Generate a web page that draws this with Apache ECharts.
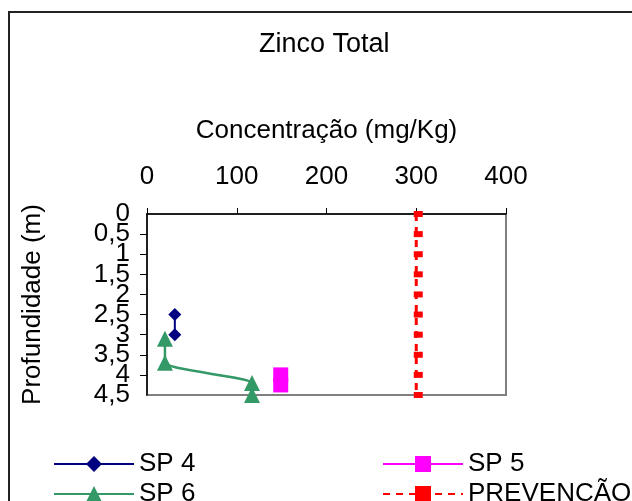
<!DOCTYPE html>
<html>
<head>
    <meta charset="utf-8">
    <script src="https://cdn.jsdelivr.net/npm/echarts@6/dist/echarts.min.js"></script>
    <style>
        body { margin: 0; background: #fff; }
        #main { width: 632px; height: 501px; }
    </style>
</head>

<body>
    <div id="main"></div>

    <script type="text/javascript">
        var myChart = echarts.init(document.getElementById('main'));

        var font = 'Liberation Sans, Arial, sans-serif';

        // [concentracao, profundidade]
        var sp4 = [[31, 2.5], [31, 3.0]];
        var sp5 = [[149, 4.0], [149, 4.25]];
        var sp6 = [[20, 3.1], [20, 3.7], [117, 4.2], [117, 4.5]];
        var prevencao = [[300, 0], [300, 0.5], [300, 1], [300, 1.5], [300, 2],
                         [300, 2.5], [300, 3], [300, 3.5], [300, 4], [300, 4.5]];
        var depthMin = 0, depthMax = 4.5;

        function legendAt(name, left, top) {
            return {
                data: [name],
                left: left,
                top: top,
                itemWidth: 80,
                itemHeight: 20,
                textStyle: { fontFamily: font, fontSize: 26, color: '#000' }
            };
        }

        function depthLabel(v) {
            return String(v).replace('.', ',');
        }

        var labelStyle = { fontFamily: font, fontSize: 26, color: '#000', margin: 17, hideOverlap: false };

        myChart.setOption({
            backgroundColor: '#fff',
            animation: false,
            title: {
                text: 'Zinco Total',
                left: 259,
                top: 31,
                padding: 0,
                textStyle: { fontFamily: font, fontSize: 27, fontWeight: 'normal', color: '#000' }
            },
            graphic: [{
                type: 'rect',
                shape: { x: 9, y: 12, width: 700, height: 600 },
                style: { fill: 'none', stroke: '#222', lineWidth: 2 },
                silent: true
            }],
            legend: [
                legendAt('SP 4', 48, 446),
                legendAt('SP 6', 48, 476),
                legendAt('SP 5', 377, 446),
                legendAt('PREVENÇÃO', 377, 476)
            ],
            grid: {
                left: 147,
                top: 214,
                right: 126,
                bottom: 106,
                show: true,
                borderColor: '#808080',
                borderWidth: 2
            },
            xAxis: {
                type: 'value',
                position: 'top',
                min: 0,
                max: 400,
                interval: 100,
                name: 'Concentração (mg/Kg)',
                nameLocation: 'middle',
                nameGap: 70,
                nameTextStyle: { fontFamily: font, fontSize: 26, color: '#000' },
                axisLine: { show: true, lineStyle: { color: '#000', width: 1.5 } },
                axisTick: { show: true, length: 6, lineStyle: { color: '#000' } },
                axisLabel: { fontFamily: font, fontSize: 26, color: '#000', margin: 24 },
                splitLine: { show: false }
            },
            yAxis: [{
                type: 'value',
                inverse: true,
                min: depthMin,
                max: depthMax,
                interval: 0.5,
                name: 'Profundidade (m)',
                nameLocation: 'middle',
                nameGap: 101,
                nameRotate: 90,
                nameTextStyle: { fontFamily: font, fontSize: 26, color: '#000' },
                axisLine: { show: true, lineStyle: { color: '#000', width: 1.5 } },
                axisTick: { show: true, length: 7, lineStyle: { color: '#000' } },
                axisLabel: Object.assign({}, labelStyle, {
                    showMinLabel: false,
                    showMaxLabel: false,
                    formatter: depthLabel
                }),
                splitLine: { show: false }
            }, {
                // second copy of the depth axis, only for the end labels (0 and 4,5)
                type: 'value',
                position: 'left',
                inverse: true,
                min: depthMin,
                max: depthMax,
                interval: 0.5,
                axisLine: { show: false },
                axisTick: { show: false },
                axisLabel: Object.assign({}, labelStyle, {
                    showMinLabel: true,
                    showMaxLabel: true,
                    formatter: function (v) {
                        return (v === depthMin || v === depthMax) ? depthLabel(v) : '';
                    }
                }),
                splitLine: { show: false }
            }],
            series: [{
                name: 'SP 4',
                type: 'line',
                data: sp4,
                symbol: 'diamond',
                symbolSize: 13,
                itemStyle: { color: '#000080' },
                lineStyle: { color: '#000080', width: 2 }
            }, {
                name: 'SP 5',
                type: 'line',
                data: sp5,
                symbol: 'rect',
                symbolSize: 15,
                itemStyle: { color: '#ff00ff' },
                lineStyle: { color: '#ff00ff', width: 2 }
            }, {
                name: 'SP 6',
                type: 'line',
                data: sp6,
                smooth: 0.2,
                symbol: 'triangle',
                symbolSize: 16,
                itemStyle: { color: '#339966' },
                lineStyle: { color: '#339966', width: 2.5 }
            }, {
                name: 'PREVENÇÃO',
                type: 'line',
                data: prevencao,
                symbol: 'rect',
                symbolSize: [9, 6],
                symbolOffset: [2, 0],
                itemStyle: { color: '#ff0000' },
                lineStyle: { color: '#ff0000', width: 3, type: [7, 6] }
            }]
        });
    </script>
</body>

</html>
